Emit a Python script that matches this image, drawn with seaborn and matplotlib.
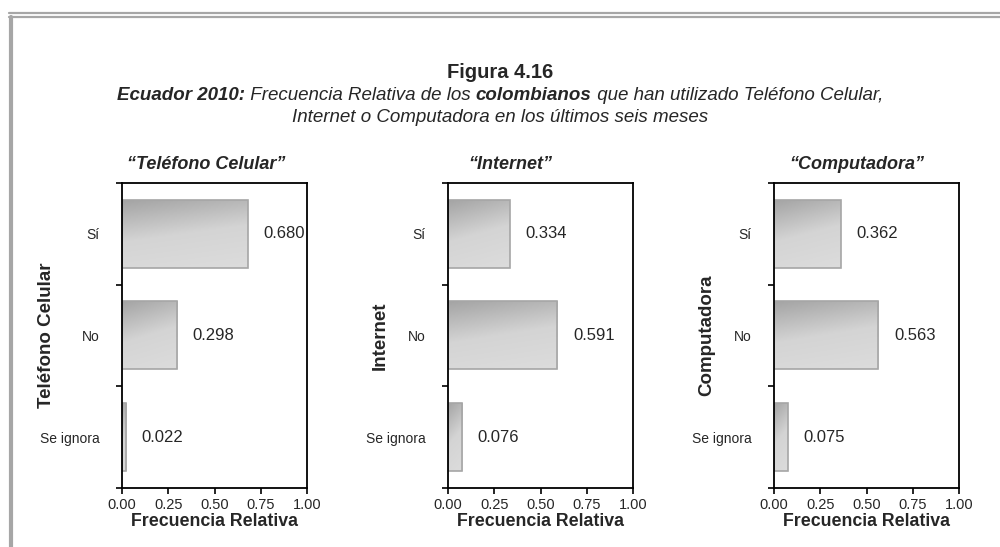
import numpy as np
import pandas as pd
import matplotlib.pyplot as plt
from matplotlib.lines import Line2D
import seaborn as sns

categorias = ["Sí", "No", "Se ignora"]
celular = [0.680, 0.298, 0.022]
internet = [0.334, 0.591, 0.076]
computadora = [0.362, 0.563, 0.075]
titulos = ["Teléfono Celular", "Internet", "Computadora"]
series = [celular, internet, computadora]
x_ticks = [0.00, 0.25, 0.50, 0.75, 1.00]

sns.set_style("white")
plt.rcParams['font.family'] = ['Liberation Sans', 'DejaVu Sans']

fig = plt.figure(figsize=(10, 5.47), dpi=100)

# gradient used to fill the bars (darker at the top)
grad = np.linspace(0, 1, 64).reshape(-1, 1) * np.ones((1, 64))
grad = grad * 0.8 + np.linspace(0, 1, 64).reshape(1, -1) * 0.2
cmap_bar = sns.blend_palette(["#a3a3a3", "#d4d4d4", "#dcdcdc"], as_cmap=True)

lefts = [0.122, 0.448, 0.774]
ylabel_x = [-0.36, -0.322, -0.317]
title_x = [0.455, 0.335, 0.45]
for left, titulo, vals, lx, tx in zip(lefts, titulos, series, ylabel_x, title_x):
    ax = fig.add_axes([left, 0.108, 0.185, 0.5576])
    df = pd.DataFrame({"cat": categorias, "val": vals})
    sns.barplot(data=df, y="cat", x="val", orient="h", color="#d0d0d0",
                width=0.67, edgecolor="#a6a6a6", linewidth=1.2, ax=ax)
    ylim = ax.get_ylim()
    for p in ax.patches:
        x0, y0 = p.get_x(), p.get_y()
        w, h = p.get_width(), p.get_height()
        im = ax.imshow(grad, cmap=cmap_bar, aspect='auto',
                       extent=[x0, x0 + w, y0 + h, y0], zorder=p.get_zorder() - 0.1)
        im.set_clip_path(p)
        p.set_facecolor("none")
    ax.set_xlim(0, 1)
    ax.set_ylim(ylim)

    for i, v in enumerate(vals):
        ax.text(v + 0.085, i, f"{v:.3f}", va="center", ha="left", fontsize=12,
                zorder=5, clip_on=False,
                bbox=dict(facecolor="white", edgecolor="none", pad=0.5))

    ax.set_xticks(x_ticks)
    ax.set_xticklabels([f"{t:.2f}" for t in x_ticks], fontsize=10.5)
    ax.set_yticks(range(len(categorias)))
    ax.set_yticklabels(categorias, fontsize=10)
    ax.tick_params(axis="y", length=0, pad=16)
    ax.set_yticks([-0.5, 0.5, 1.5, 2.5], minor=True)
    ax.tick_params(axis="y", which="minor", left=True, length=4, width=1.2,
                   direction="out", color="black")
    ax.tick_params(axis="x", bottom=True, length=4, width=1.2, direction="out",
                   color="black", pad=3)
    for s in ax.spines.values():
        s.set_visible(True)
        s.set_color("black")
        s.set_linewidth(1.3)
    ax.set_xlabel("Frecuencia Relativa", fontsize=12.8, fontweight="bold", labelpad=1)
    ax.set_ylabel(titulo, fontsize=13.5, fontweight="bold")
    ax.yaxis.set_label_coords(lx, 0.5)
    ax.text(tx, 1.062, f"“{titulo}”", transform=ax.transAxes, ha="center",
            va="center", fontsize=13, fontweight="bold", style="italic")

# title block
fig.text(0.5, 1 - 73 / 547, "Figura 4.16", ha="center", va="center", fontsize=14.5,
         fontweight="bold")

renderer = fig.canvas.get_renderer()
def centrar(y, partes, size):
    arts = []
    x = 0.0
    for txt, bold in partes:
        t = fig.text(x, y, txt, ha="left", va="center", fontsize=size, style="italic",
                     fontweight="bold" if bold else "normal")
        bb = t.get_window_extent(renderer=renderer)
        x += bb.width / fig.bbox.width
        arts.append(t)
    shift = 0.5 - x / 2
    for t in arts:
        px, py = t.get_position()
        t.set_position((px + shift, py))

centrar(1 - 96 / 547, [("Ecuador 2010:", True), (" Frecuencia Relativa de los ", False),
                       ("colombianos", True),
                       (" que han utilizado Teléfono Celular,", False)], 13.5)
centrar(1 - 117 / 547, [("Internet o Computadora en los últimos seis meses", False)], 13.5)

# frame lines
fig.add_artist(Line2D([0.009, 1.0], [1 - 13 / 547] * 2, transform=fig.transFigure,
                      color="#a6a6a6", lw=1.6))
fig.add_artist(Line2D([0.009, 1.0], [1 - 16.5 / 547] * 2, transform=fig.transFigure,
                      color="#a6a6a6", lw=1.6))
fig.add_artist(Line2D([0.011, 0.011], [0, 1 - 16.5 / 547], transform=fig.transFigure,
                      color="#a6a6a6", lw=3))

fig.savefig("out.png", dpi=100)
